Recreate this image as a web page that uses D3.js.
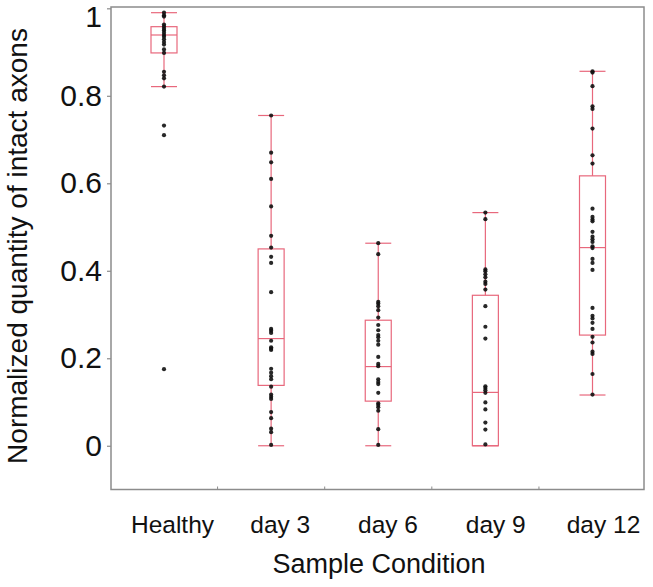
<!DOCTYPE html>
<html>
<head>
<meta charset="utf-8">
<script src="https://cdn.jsdelivr.net/npm/d3@7"></script>
<style>
  html, body { margin: 0; padding: 0; background: #fff; }
  svg { display: block; font-family: "Liberation Sans", Arial, Helvetica, sans-serif; }
</style>
</head>
<body>
<svg id="chart" width="653" height="587"></svg>
<script>
// ---- data ----
const categories = ["Healthy", "day 3", "day 6", "day 9", "day 12"];
const whiskerHigh = [0.990, 0.755, 0.463, 0.533, 0.856];
const q3Values    = [0.958, 0.450, 0.287, 0.344, 0.617];
const medians     = [0.939, 0.245, 0.181, 0.122, 0.453];
const q1Values    = [0.898, 0.138, 0.102, 0.000, 0.253];
const whiskerLow  = [0.821, 0.000, 0.000, 0.000, 0.116];

const healthyPoints = [0.990, 0.984, 0.981, 0.963, 0.958, 0.953, 0.949, 0.944, 0.939, 0.935,
  0.929, 0.923, 0.917, 0.906, 0.898, 0.855, 0.847, 0.840, 0.821, 0.732, 0.710, 0.175];
const day3Points = [0.755, 0.670, 0.648, 0.610, 0.547, 0.480, 0.453, 0.432, 0.418, 0.351,
  0.267, 0.263, 0.258, 0.240, 0.225, 0.222, 0.219, 0.176, 0.167, 0.159, 0.152, 0.135,
  0.117, 0.112, 0.107, 0.077, 0.063, 0.039, 0.031, 0.002];
const day6Points = [0.463, 0.438, 0.329, 0.325, 0.319, 0.310, 0.293, 0.276, 0.264, 0.253,
  0.248, 0.240, 0.231, 0.203, 0.187, 0.182, 0.152, 0.146, 0.141, 0.121, 0.097, 0.093,
  0.088, 0.080, 0.038, 0.002];
const day9Points = [0.533, 0.518, 0.403, 0.399, 0.392, 0.385, 0.375, 0.370, 0.357, 0.319,
  0.272, 0.245, 0.136, 0.132, 0.127, 0.121, 0.099, 0.083, 0.053, 0.037, 0.003];
const day12Points = [0.856, 0.853, 0.822, 0.776, 0.770, 0.725, 0.664, 0.645, 0.542, 0.523,
  0.517, 0.513, 0.489, 0.478, 0.472, 0.466, 0.456, 0.452, 0.427, 0.418, 0.402, 0.315,
  0.297, 0.291, 0.281, 0.267, 0.249, 0.236, 0.215, 0.210, 0.164, 0.117];
const pointSets = [healthyPoints, day3Points, day6Points, day9Points, day12Points];
const yTicks = [0, 0.2, 0.4, 0.6, 0.8, 1];
const xTitle = "Sample Condition";
const yTitle = "Normalized quantity of intact axons";

// ---- layout ----
const plot = { left: 111, right: 644, top: 7, bottom: 489.5 };
const boxColor = "#e8687c";
const frameColor = "#8c8c8c";
const boxW = 26;

const svg = d3.select("#chart");

const y = d3.scaleLinear().domain([-0.1, 1.003]).range([plot.bottom, plot.top]);
const x = d3.scalePoint().domain(categories).range([164, 592.5]);
const xLab = d3.scalePoint().domain(categories).range([172, 603]);
const step = x.step();

// frame
svg.append("rect")
  .attr("x", plot.left).attr("y", plot.top)
  .attr("width", plot.right - plot.left).attr("height", plot.bottom - plot.top)
  .attr("fill", "none").attr("stroke", frameColor).attr("stroke-width", 1.5);

// y axis
const yAxis = d3.axisLeft(y).tickValues(yTicks).tickSize(4).tickPadding(5)
  .tickFormat(d => d3.format("")(d));
const gy = svg.append("g").attr("transform", `translate(${plot.left},0)`).call(yAxis);
gy.select(".domain").remove();
gy.selectAll(".tick line").attr("stroke", frameColor).attr("stroke-width", 1.2);
gy.selectAll(".tick text").attr("font-size", 30).attr("fill", "#111")
  .attr("font-family", "Liberation Sans, Arial, sans-serif")
  .attr("y", d => d === 1 ? 9 : 0);

// small inward ticks at the bottom between groups
const sepVals = categories.slice(0, -1).map(c => x(c) + step / 2);
svg.append("g").selectAll("line").data(sepVals).join("line")
  .attr("x1", d => d).attr("x2", d => d)
  .attr("y1", plot.bottom).attr("y2", plot.bottom - 3)
  .attr("stroke", frameColor).attr("stroke-width", 1);

// x axis labels
const xAxis = d3.axisBottom(xLab).tickSize(0).tickPadding(0);
const gx = svg.append("g").attr("transform", `translate(0,${plot.bottom})`).call(xAxis);
gx.select(".domain").remove();
gx.selectAll(".tick text").attr("font-size", 24.5).attr("fill", "#111")
  .attr("dy", null).attr("y", 43.5)
  .attr("font-family", "Liberation Sans, Arial, sans-serif");

// titles
svg.append("text").attr("x", 379).attr("y", 573)
  .attr("text-anchor", "middle").attr("font-size", 27).attr("fill", "#111")
  .text(xTitle);
svg.append("text").attr("transform", "translate(27,246) rotate(-90)")
  .attr("text-anchor", "middle").attr("font-size", 28).attr("fill", "#111")
  .text(yTitle);

// boxes
const stats = categories.map((c, i) => ({
  c, hi: whiskerHigh[i], q3: q3Values[i], med: medians[i], q1: q1Values[i], lo: whiskerLow[i]
}));
const gb = svg.append("g").attr("stroke", boxColor).attr("stroke-width", 1.2).attr("fill", "none");
stats.forEach(s => {
  const cx = x(s.c);
  gb.append("line").attr("x1", cx).attr("x2", cx).attr("y1", y(s.hi)).attr("y2", y(s.q3));
  gb.append("line").attr("x1", cx).attr("x2", cx).attr("y1", y(s.q1)).attr("y2", y(s.lo));
  gb.append("line").attr("x1", cx - boxW / 2).attr("x2", cx + boxW / 2).attr("y1", y(s.hi)).attr("y2", y(s.hi));
  gb.append("line").attr("x1", cx - boxW / 2).attr("x2", cx + boxW / 2).attr("y1", y(s.lo)).attr("y2", y(s.lo));
  gb.append("rect").attr("x", cx - boxW / 2).attr("width", boxW)
    .attr("y", y(s.q3)).attr("height", Math.max(0, y(s.q1) - y(s.q3)));
  gb.append("line").attr("x1", cx - boxW / 2).attr("x2", cx + boxW / 2).attr("y1", y(s.med)).attr("y2", y(s.med));
});

// points
const gp = svg.append("g");
categories.forEach((c, i) => {
  gp.selectAll(null).data(pointSets[i]).join("circle")
    .attr("cx", x(c)).attr("cy", d => y(d)).attr("r", 2.1)
    .attr("fill", "#111").attr("fill-opacity", 0.9);
});
</script>
</body>
</html>
